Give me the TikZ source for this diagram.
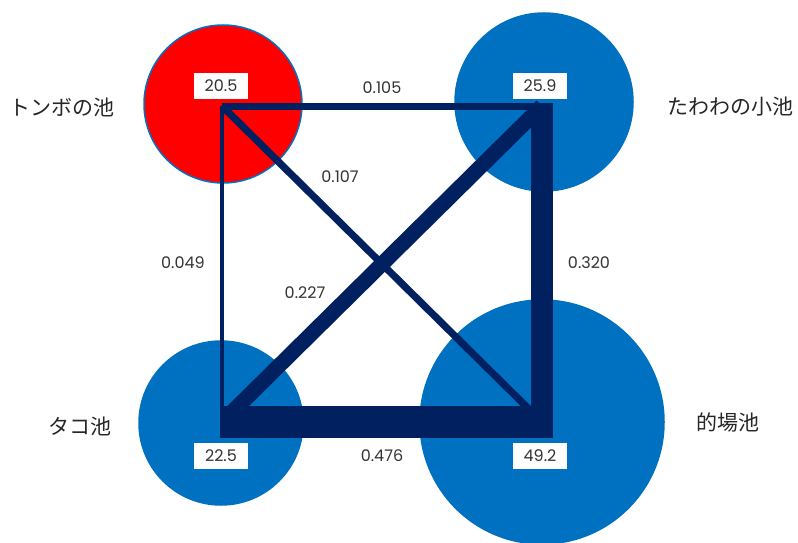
\documentclass[tikz,border=0pt]{standalone}
\usepackage{fontspec}
\setmainfont{Poppins}
\newfontfamily\jp{Noto Sans CJK JP}
\definecolor{pondblue}{HTML}{0070C0}
\definecolor{pondred}{HTML}{FF0000}
\definecolor{edgenavy}{HTML}{002060}
\definecolor{txt}{HTML}{333333}
\begin{document}
\begin{tikzpicture}[x=1pt,y=-1pt,
  pond/.style={circle, draw=pondblue, line width=1.5pt, fill=pondblue, inner sep=0pt, minimum size=#1},
  link/.style={draw=edgenavy, line width=#1},
  valbox/.style={fill=white, inner sep=0pt, minimum width=54pt, minimum height=26pt, font=\fontsize{16}{16}\selectfont, text=txt},
  elabel/.style={font=\fontsize{16}{16}\selectfont, text=txt},
  pname/.style={font=\jp\fontsize{21}{21}\selectfont, text=black!85}]
\useasboundingbox (0,0) rectangle (798,543);
% ponds
\node[pond=158pt, fill=pondred] (tombo) at (223,104) {};
\node[pond=178pt] (tawawa) at (544,102) {};
\node[pond=164pt] (tako) at (221,423) {};
\node[pond=244pt] (matoba) at (542,422) {};
% vertices
\coordinate (vTL) at (222,106);
\coordinate (vTR) at (542,106);
\coordinate (vBL) at (222,422);
\coordinate (vBR) at (542,422);
% links
\draw[link=3.3pt] (vTL) -- (vBL);
\draw[link=7pt] (vTL) -- (vTR);
\draw[link=7.2pt] (vTL) -- (vBR);
\draw[link=15.2pt, shorten <=8pt] (vBL) -- (vTR);
\draw[link=21.5pt, shorten <=-3pt, shorten >=-16pt] (vTR) -- (vBR);
\draw[link=32pt, rounded corners=4pt, shorten <=-2pt, shorten >=-11pt] (vBL) -- (vBR);
% link labels
\node[elabel] (l1) at (382,88) {0.105};
\node[elabel] (l2) at (340,177) {0.107};
\node[elabel] (l3) at (183,263) {0.049};
\node[elabel] (l4) at (305,293) {0.227};
\node[elabel] (l5) at (589,263) {0.320};
\node[elabel] (l6) at (382,456) {0.476};
% value boxes
\node[valbox] (b1) at (221,86) {20.5};
\node[valbox] (b2) at (540,86) {25.9};
\node[valbox] (b3) at (221,456) {22.5};
\node[valbox] (b4) at (540,456) {49.2};
% pond names
\node[pname] (n1) at (62,107) {トンボの池};
\node[pname] (n2) at (730,107) {たわわの小池};
\node[pname] (n3) at (80,426) {タコ池};
\node[pname] (n4) at (728,423) {的場池};
\end{tikzpicture}
\end{document}
